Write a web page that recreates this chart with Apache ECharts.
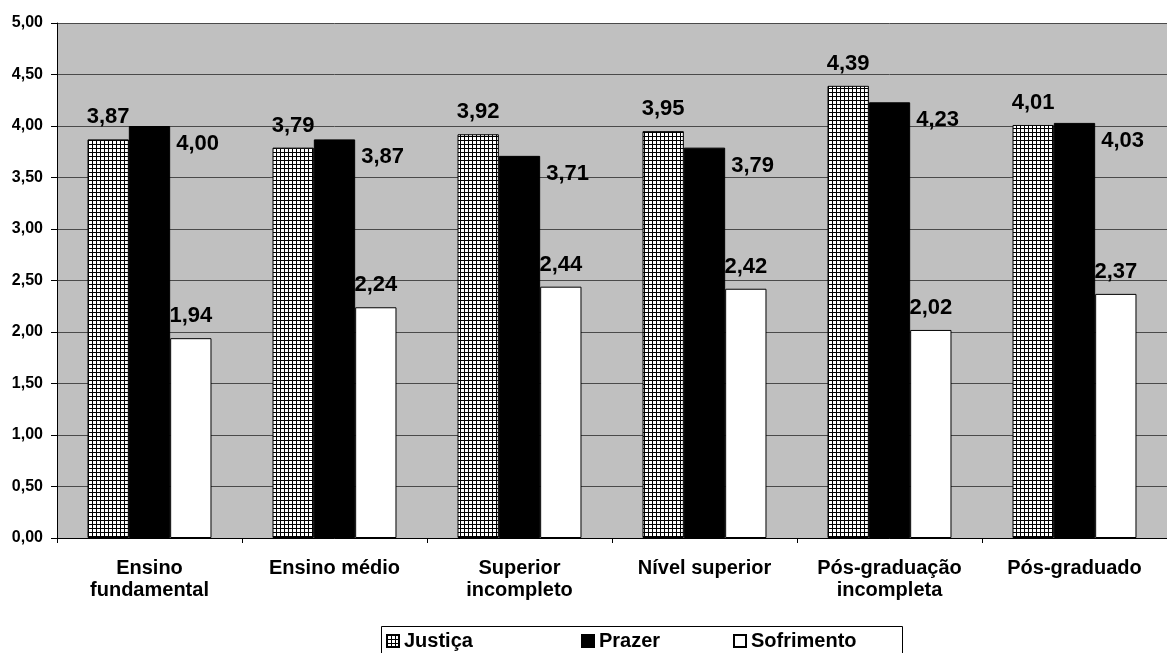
<!DOCTYPE html>
<html>
<head>
<meta charset="utf-8">
<script src="https://cdn.jsdelivr.net/npm/echarts@6/dist/echarts.min.js"></script>
<style>
html,body{margin:0;padding:0;background:#fff;}
#chart{width:1167px;height:653px;}
</style>
</head>
<body>
<div id="chart"></div>
<script>
const categories = ['Ensino\nfundamental', 'Ensino médio', 'Superior\nincompleto', 'Nível superior', 'Pós-graduação\nincompleta', 'Pós-graduado'];
const seriesNames = ['Justiça', 'Prazer', 'Sofrimento'];
const justica = [3.87, 3.79, 3.92, 3.95, 4.39, 4.01];
const prazer = [4.00, 3.87, 3.71, 3.79, 4.23, 4.03];
const sofrimento = [1.94, 2.24, 2.44, 2.42, 2.02, 2.37];
const yTicks = { min: 0, max: 5, interval: 0.5 };

const FONT = "'Liberation Sans', Arial, sans-serif";
const fmt = v => Number(v).toFixed(2).replace('.', ',');

// hatch pattern (small grid)
const pc = document.createElement('canvas');
pc.width = 4; pc.height = 4;
const pctx = pc.getContext('2d');
pctx.fillStyle = '#ffffff';
pctx.fillRect(0, 0, 4, 4);
pctx.fillStyle = '#000000';
pctx.fillRect(0, 0, 4, 1);
pctx.fillRect(0, 0, 1, 4);
const hatch = { image: pc, repeat: 'repeat' };

const labelBase = {
  show: true,
  fontFamily: FONT,
  fontWeight: 'bold',
  fontSize: 22,
  lineHeight: 22,
  color: '#000',
  formatter: p => fmt(p.value)
};

const chart = echarts.init(document.getElementById('chart'), null, { renderer: 'canvas' });
const legendCommon = {
  orient: 'horizontal',
  top: 631,
  icon: 'rect',
  itemWidth: 12,
  itemHeight: 12,
  itemGap: 0,
  padding: 0,
  textStyle: { fontFamily: FONT, fontWeight: 'bold', fontSize: 20, color: '#000', lineHeight: 20 }
};
chart.setOption({
  backgroundColor: '#ffffff',
  animation: false,
  grid: {
    left: 57, right: -12, top: 23, bottom: 115,
    show: true, backgroundColor: '#c0c0c0', borderWidth: 0
  },
  legend: [
    Object.assign({ data: ['Justiça'], left: 386 }, legendCommon),
    Object.assign({ data: ['Prazer'], left: 581 }, legendCommon),
    Object.assign({ data: ['Sofrimento'], left: 733 }, legendCommon)
  ],
  graphic: [{
    type: 'rect',
    shape: { x: 381.5, y: 626.5, width: 521, height: 40 },
    style: { fill: 'none', stroke: '#000', lineWidth: 1 },
    silent: true
  }],
  xAxis: {
    type: 'category',
    data: categories,
    axisLine: { lineStyle: { color: '#000', width: 1 } },
    axisTick: { show: true, length: 5, lineStyle: { color: '#000' } },
    axisLabel: {
      fontFamily: FONT, fontWeight: 'bold', fontSize: 20, lineHeight: 22,
      color: '#000', margin: 19, interval: 0
    },
    splitLine: { show: false }
  },
  yAxis: {
    type: 'value',
    min: yTicks.min, max: yTicks.max, interval: yTicks.interval,
    axisLine: { show: true, lineStyle: { color: '#000', width: 1 } },
    axisTick: { show: true, length: 6, lineStyle: { color: '#000' } },
    axisLabel: {
      fontFamily: FONT, fontWeight: 'bold', fontSize: 16,
      color: '#000', margin: 14, formatter: v => fmt(v)
    },
    splitLine: { show: true, lineStyle: { color: '#4a4a4a', width: 1 } }
  },
  series: [
    {
      name: seriesNames[0], type: 'bar', data: justica,
      barGap: '0%', barCategoryGap: '33%',
      itemStyle: { color: hatch, borderColor: '#000', borderWidth: 1 },
      label: Object.assign({}, labelBase, { position: 'top', distance: 11 })
    },
    {
      name: seriesNames[1], type: 'bar', data: prazer,
      barGap: '0%', barCategoryGap: '33%',
      itemStyle: { color: '#000', borderColor: '#000', borderWidth: 1 },
      label: Object.assign({}, labelBase, {
        position: ['100%', 0], align: 'left', verticalAlign: 'middle', offset: [6, 18]
      })
    },
    {
      name: seriesNames[2], type: 'bar', data: sofrimento,
      barGap: '0%', barCategoryGap: '33%',
      itemStyle: { color: '#fff', borderColor: '#000', borderWidth: 1 },
      label: Object.assign({}, labelBase, { position: 'top', distance: 11 })
    }
  ]
});
</script>
</body>
</html>
